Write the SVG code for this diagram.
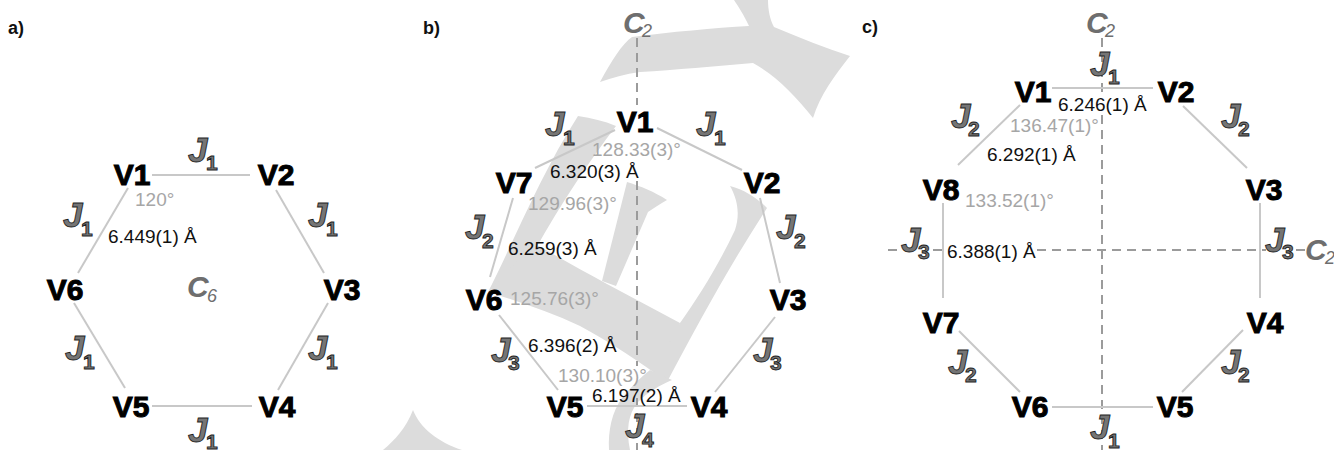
<svg xmlns="http://www.w3.org/2000/svg" width="1334" height="450" viewBox="0 0 1334 450">
  <style>
    .edge { stroke: #c8c8c8; stroke-width: 2; fill: none; }
    .axis { stroke: #9b9b9b; stroke-width: 2; stroke-dasharray: 9 6; fill: none; }
    .wm { fill: #dcdcdc; stroke: none; }
    .v { font-family: "Liberation Sans", Arial, sans-serif; font-weight: bold; font-size: 30px; fill: #000; stroke: #000; stroke-width: 1; text-anchor: middle; }
    .j { font-family: "Liberation Sans", Arial, sans-serif; font-style: italic; font-weight: bold; font-size: 35px; fill: #757575; stroke: #1e1e1e; stroke-width: 0.9; }
    .js { font-style: normal; font-size: 21px; }
    .d { font-family: "Liberation Sans", Arial, sans-serif; font-size: 19px; fill: #111; }
    .ang { fill: #a6a6a6; }
    .c { font-family: "Liberation Sans", Arial, sans-serif; font-style: italic; font-weight: bold; font-size: 30px; fill: #6e6e6e; }
    .cs { font-size: 18px; font-weight: normal; }
    .lbl { font-family: "Liberation Sans", Arial, sans-serif; font-weight: bold; font-size: 18px; fill: #111; }
  </style>

  <!-- faint background mark -->
  <g id="backdrop">
    <!-- upper fork -->
    <path class="wm" d="M600,82 C612,60 622,44 632,37 C670,32 715,28 749,26 C744,15 738,6 734,0 L768,0 C768,10 770,20 774,27 C800,38 826,48 850,56 C835,75 820,95 813,118 C795,95 775,75 753,63 C715,66 675,70 640,72 C625,74 612,78 600,82 Z"/>
    <!-- left stroke -->
    <path class="wm" d="M578,116 C592,118 604,121 616,126 C590,160 560,205 535,250 L520,290 L488,292 C510,250 540,175 578,116 Z"/>
    <!-- lower band -->
    <path class="wm" d="M488,292 L520,258 L537,245 C560,258 585,272 607,284 L680,323 L667,382 C640,362 610,342 580,326 C550,312 520,302 488,292 Z"/>
    <!-- middle stroke -->
    <path class="wm" d="M627,182 C640,186 655,192 667,200 C660,204 654,208 648,212 L616,286 L602,281 Z"/>
    <!-- right stroke -->
    <path class="wm" d="M730,186 C745,190 757,198 767,208 C730,265 700,320 667,382 L660,360 L680,323 C700,295 720,262 735,230 C740,215 738,200 730,186 Z"/>
    <!-- lower tail -->
    <path class="wm" d="M650,370 L672,380 C660,385 648,392 638,402 C628,414 626,430 630,450 L609,450 C608,430 612,412 622,398 C630,388 640,378 650,370 Z"/>
    <!-- corner sliver -->
    <path class="wm" d="M383,450 C395,440 406,428 413,410 C420,428 438,442 462,450 Z"/>
  </g>

  <!-- panel labels -->
  <g id="panel-labels">
    <text class="lbl" x="8" y="34">a)</text>
    <text class="lbl" x="423" y="34">b)</text>
    <text class="lbl" x="862" y="33">c)</text>
  </g>

  <!-- connectors: ring bonds and symmetry axes -->
  <g id="connectors">
    <!-- panel a -->
    <line class="edge" x1="152" y1="175" x2="250" y2="175"/>
    <line class="edge" x1="276" y1="190" x2="324" y2="273"/>
    <line class="edge" x1="328" y1="303" x2="278" y2="390"/>
    <line class="edge" x1="152" y1="406" x2="252" y2="406"/>
    <line class="edge" x1="74" y1="303" x2="125" y2="388"/>
    <line class="edge" x1="128" y1="188" x2="78" y2="273"/>
    <!-- panel b -->
    <line class="axis" x1="637" y1="38" x2="637" y2="105"/>
    <line class="axis" x1="637" y1="181" x2="637" y2="366"/>
    <line class="axis" x1="637" y1="398" x2="637" y2="450"/>
    <line class="edge" x1="615" y1="130" x2="535" y2="168"/>
    <line class="edge" x1="657" y1="128" x2="742" y2="170"/>
    <line class="edge" x1="513" y1="198" x2="490" y2="277"/>
    <line class="edge" x1="760" y1="198" x2="780" y2="283"/>
    <line class="edge" x1="499" y1="315" x2="558" y2="390"/>
    <line class="edge" x1="775" y1="317" x2="715" y2="392"/>
    <line class="edge" x1="587" y1="406" x2="687" y2="406"/>
    <!-- panel c -->
    <line class="axis" x1="1102" y1="38" x2="1102" y2="93"/>
    <line class="axis" x1="1102" y1="115" x2="1102" y2="450"/>
    <line class="axis" x1="888" y1="250" x2="903" y2="250"/>
    <line class="axis" x1="933" y1="250" x2="946" y2="250"/>
    <line class="axis" x1="1037" y1="250" x2="1266" y2="250"/>
    <line class="axis" x1="1296" y1="250" x2="1305" y2="250"/>
    <line class="edge" x1="1052" y1="88" x2="1153" y2="88"/>
    <line class="edge" x1="1020" y1="105" x2="958" y2="165"/>
    <line class="edge" x1="1183" y1="106" x2="1247" y2="168"/>
    <line class="edge" x1="943" y1="203" x2="943" y2="298"/>
    <line class="edge" x1="1260" y1="203" x2="1260" y2="298"/>
    <line class="edge" x1="959" y1="331" x2="1020" y2="392"/>
    <line class="edge" x1="1243" y1="330" x2="1182" y2="392"/>
    <line class="edge" x1="1052" y1="407" x2="1153" y2="407"/>
  </g>

  <!-- exchange labels -->
  <g id="couplings">
    <!-- panel a -->
    <text class="j" x="188" y="162">J<tspan class="js" x="206" y="170">1</tspan></text>
    <text class="j" x="63" y="227">J<tspan class="js" x="81" y="236">1</tspan></text>
    <text class="j" x="308" y="227">J<tspan class="js" x="326" y="236">1</tspan></text>
    <text class="j" x="65" y="360">J<tspan class="js" x="83" y="369">1</tspan></text>
    <text class="j" x="308" y="360">J<tspan class="js" x="326" y="369">1</tspan></text>
    <text class="j" x="188" y="442">J<tspan class="js" x="206" y="449">1</tspan></text>
    <!-- panel b -->
    <text class="j" x="545" y="136">J<tspan class="js" x="563" y="145">1</tspan></text>
    <text class="j" x="696" y="136">J<tspan class="js" x="714" y="145">1</tspan></text>
    <text class="j" x="465" y="239">J<tspan class="js" x="482" y="248">2</tspan></text>
    <text class="j" x="776" y="239">J<tspan class="js" x="794" y="248">2</tspan></text>
    <text class="j" x="491" y="362">J<tspan class="js" x="508" y="370">3</tspan></text>
    <text class="j" x="753" y="362">J<tspan class="js" x="770" y="370">3</tspan></text>
    <text class="j" x="625" y="438">J<tspan class="js" x="642" y="447">4</tspan></text>
    <!-- panel c -->
    <text class="j" x="1090" y="76">J<tspan class="js" x="1108" y="84">1</tspan></text>
    <text class="j" x="951" y="128">J<tspan class="js" x="968" y="136">2</tspan></text>
    <text class="j" x="1221" y="128">J<tspan class="js" x="1238" y="136">2</tspan></text>
    <text class="j" x="901" y="252">J<tspan class="js" x="918" y="259">3</tspan></text>
    <text class="j" x="1265" y="252">J<tspan class="js" x="1282" y="259">3</tspan></text>
    <text class="j" x="948" y="374">J<tspan class="js" x="965" y="382">2</tspan></text>
    <text class="j" x="1221" y="374">J<tspan class="js" x="1238" y="382">2</tspan></text>
    <text class="j" x="1090" y="439">J<tspan class="js" x="1108" y="448">1</tspan></text>
  </g>

  <!-- symmetry axis labels -->
  <g id="axes-labels">
    <text class="c" x="187" y="297">C<tspan class="cs" x="207" y="302">6</tspan></text>
    <text class="c" x="623" y="33">C<tspan class="cs" x="642" y="37">2</tspan></text>
    <text class="c" x="1086" y="33">C<tspan class="cs" x="1105" y="37">2</tspan></text>
    <text class="c" x="1305" y="260">C<tspan class="cs" x="1325" y="264">2</tspan></text>
  </g>

  <!-- distances and angles -->
  <g id="metrics">
    <text class="d ang" x="135" y="206">120°</text>
    <text class="d" x="108" y="243">6.449(1) Å</text>

    <text class="d ang" x="592" y="156">128.33(3)°</text>
    <text class="d" x="550" y="178">6.320(3) Å</text>
    <text class="d ang" x="528" y="210">129.96(3)°</text>
    <text class="d" x="508" y="255">6.259(3) Å</text>
    <text class="d ang" x="510" y="305">125.76(3)°</text>
    <text class="d" x="528" y="352">6.396(2) Å</text>
    <text class="d ang" x="558" y="382">130.10(3)°</text>
    <text class="d" x="592" y="402">6.197(2) Å</text>

    <text class="d" x="1058" y="111">6.246(1) Å</text>
    <text class="d ang" x="1010" y="132">136.47(1)°</text>
    <text class="d" x="987" y="161">6.292(1) Å</text>
    <text class="d ang" x="965" y="207">133.52(1)°</text>
    <text class="d" x="947" y="258">6.388(1) Å</text>
  </g>

  <!-- vanadium centres, panel a -->
  <g id="a-V1"><text class="v" x="132" y="185">V1</text></g>
  <g id="a-V2"><text class="v" x="276" y="185">V2</text></g>
  <g id="a-V3"><text class="v" x="342" y="300">V3</text></g>
  <g id="a-V4"><text class="v" x="277" y="417">V4</text></g>
  <g id="a-V5"><text class="v" x="131" y="417">V5</text></g>
  <g id="a-V6"><text class="v" x="65" y="300">V6</text></g>

  <!-- vanadium centres, panel b -->
  <g id="b-V1"><text class="v" x="635" y="132">V1</text></g>
  <g id="b-V2"><text class="v" x="762" y="193">V2</text></g>
  <g id="b-V3"><text class="v" x="788" y="310">V3</text></g>
  <g id="b-V4"><text class="v" x="709" y="417">V4</text></g>
  <g id="b-V5"><text class="v" x="565" y="417">V5</text></g>
  <g id="b-V6"><text class="v" x="484" y="310">V6</text></g>
  <g id="b-V7"><text class="v" x="514" y="193">V7</text></g>

  <!-- vanadium centres, panel c -->
  <g id="c-V1"><text class="v" x="1033" y="102">V1</text></g>
  <g id="c-V2"><text class="v" x="1176" y="102">V2</text></g>
  <g id="c-V3"><text class="v" x="1264" y="200">V3</text></g>
  <g id="c-V4"><text class="v" x="1265" y="333">V4</text></g>
  <g id="c-V5"><text class="v" x="1175" y="417">V5</text></g>
  <g id="c-V6"><text class="v" x="1030" y="417">V6</text></g>
  <g id="c-V7"><text class="v" x="941" y="333">V7</text></g>
  <g id="c-V8"><text class="v" x="941" y="200">V8</text></g>
</svg>
